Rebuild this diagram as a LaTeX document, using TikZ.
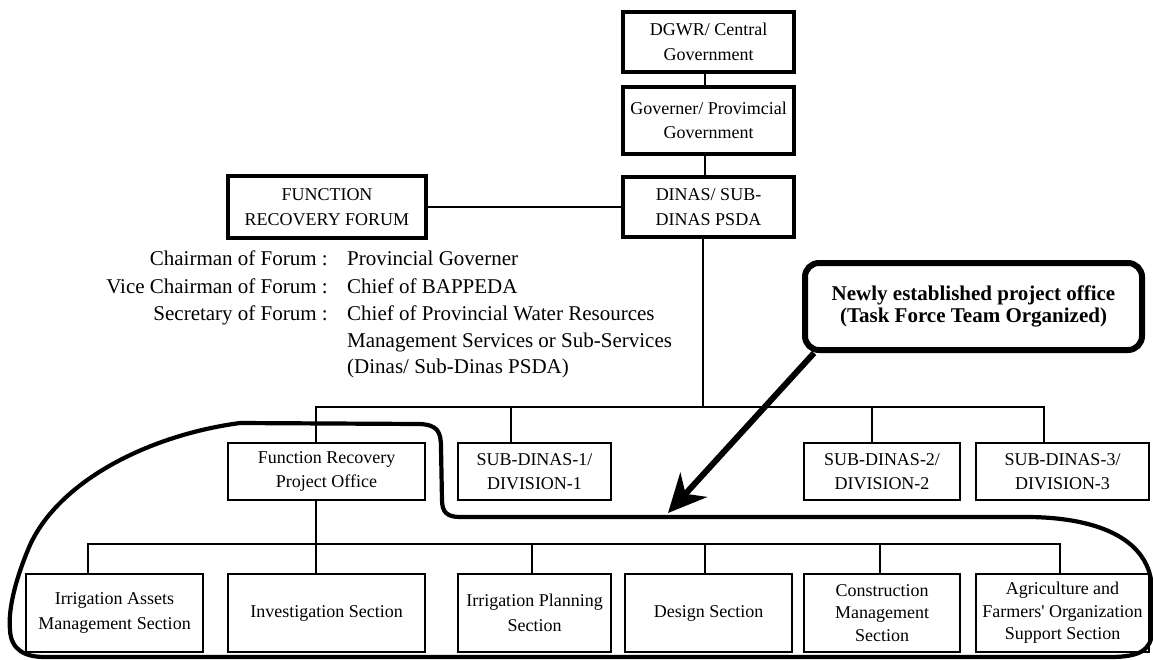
\documentclass[tikz,border=0pt]{standalone}
\usepackage{fontspec}
\setmainfont{Liberation Serif}
\usetikzlibrary{arrows.meta,calc}
\tikzset{
  box/.style={draw, line width=2.3pt, inner sep=0pt, align=center,
              font=\fontsize{18}{24.5}\selectfont},
  boxthree/.style={box, font=\fontsize{18}{22.5}\selectfont},
  topbox/.style={box, line width=3.8pt},
  conn/.style={line width=2.8pt, line cap=rect},
  chair/.style={inner sep=0pt, font=\fontsize{21}{27}\selectfont},
  callbox/.style={draw, line width=6pt, rounded corners=14pt, inner sep=0pt, align=center,
                  font=\fontsize{21}{21.5}\selectfont\bfseries},
  outline/.style={line width=4.2pt, line cap=round, line join=round},
  bigarrow/.style={line width=6pt, -{Stealth[length=38pt,width=36pt,inset=12pt]}}
}
\begin{document}
\begin{tikzpicture}[x=1pt,y=-1pt]
\useasboundingbox (0,0) rectangle (1153,659);

% top chain
\node[topbox, minimum width=171pt, minimum height=60pt] (dgwr) at (708.5,42) {DGWR/ Central\\Government};
\node[topbox, minimum width=171pt, minimum height=67pt] (gov) at (708.5,120.5) {Governer/ Provimcial\\Government};
\node[topbox, minimum width=171pt, minimum height=60pt] (dinas) at (708.5,207) {DINAS/ SUB-\\DINAS PSDA};
\node[topbox, minimum width=198pt, minimum height=62pt] (forum) at (327,207) {FUNCTION\\RECOVERY FORUM};

\coordinate (vx) at (705,0);
\coordinate (vd) at (703,0);
\draw[conn] (dgwr.south -| vx) -- (gov.north -| vx);
\draw[conn] (gov.south -| vx) -- (dinas.north -| vx);
\draw[conn] (forum.east) -- (dinas.west);

% forum members
\node[chair, anchor=base east] (c1) at (328,265) {Chairman of Forum :};
\node[chair, anchor=base east] (c2) at (328,293) {Vice Chairman of Forum :};
\node[chair, anchor=base east] (c3) at (328,320) {Secretary of Forum :};
\node[chair, anchor=base west] (v1) at (347,265) {Provincial Governer};
\node[chair, anchor=base west] (v2) at (347,293) {Chief of BAPPEDA};
\node[chair, anchor=base west] (v3) at (347,320) {Chief of Provincial Water Resources};
\node[chair, anchor=base west] (v4) at (347,347) {Management Services or Sub-Services};
\node[chair, anchor=base west] (v5) at (347,373) {(Dinas/ Sub-Dinas PSDA)};

% middle row
\node[box, minimum width=197pt, minimum height=57pt] (frpo) at (326.5,471.5) {Function Recovery\\Project Office};
\node[box, minimum width=153pt, minimum height=57pt] (sd1) at (534.5,471.5) {SUB-DINAS-1/\\DIVISION-1};
\node[box, minimum width=156pt, minimum height=57pt] (sd2) at (882,471.5) {SUB-DINAS-2/\\DIVISION-2};
\node[box, minimum width=173pt, minimum height=57pt] (sd3) at (1062.5,471.5) {SUB-DINAS-3/\\DIVISION-3};

% bottom row
\node[box, minimum width=177pt, minimum height=78pt] (ia) at (114.5,613) {Irrigation Assets\\Management Section};
\node[box, minimum width=197pt, minimum height=78pt] (inv) at (326.5,613) {Investigation Section};
\node[box, minimum width=153pt, minimum height=78pt] (ip) at (534.5,613) {Irrigation Planning\\Section};
\node[box, minimum width=167pt, minimum height=78pt] (des) at (708.5,613) {Design Section};
\node[boxthree, minimum width=156pt, minimum height=78pt] (con) at (882,613) {Construction\\Management\\Section};
\node[boxthree, minimum width=173pt, minimum height=78pt] (agr) at (1062.5,613) {Agriculture and\\Farmers\textquotesingle\ Organization\\Support Section};

% upper bus
\coordinate (u1) at (316,407);
\coordinate (u2) at (511,407);
\coordinate (u3) at (872,407);
\coordinate (u4) at (1044,407);
\draw[conn] (dinas.south -| vd) -- (vd |- u1);
\draw[conn] (u1) -- (u4);
\draw[conn] (u1) -- (u1 |- frpo.north);
\draw[conn] (u2) -- (u2 |- sd1.north);
\draw[conn] (u3) -- (u3 |- sd2.north);
\draw[conn] (u4) -- (u4 |- sd3.north);

% lower bus
\coordinate (l1) at (88,544);
\coordinate (l2) at (316,544);
\coordinate (l3) at (532,544);
\coordinate (l4) at (705,544);
\coordinate (l5) at (880,544);
\coordinate (l6) at (1060,544);
\draw[conn] (u1 |- frpo.south) -- (l2 |- inv.north);
\draw[conn] (l1) -- (l6);
\draw[conn] (l1) -- (l1 |- ia.north);
\draw[conn] (l3) -- (l3 |- ip.north);
\draw[conn] (l4) -- (l4 |- des.north);
\draw[conn] (l5) -- (l5 |- con.north);
\draw[conn] (l6) -- (l6 |- agr.north);

% outline of the new project office
\draw[outline] (480,517) -- (1030,517)
  .. controls (1100,518) and (1151,540) .. (1152,590)
  -- (1152,630)
  .. controls (1152,650) and (1140,657) .. (1110,657)
  -- (45,657)
  .. controls (25,657) and (11,650) .. (10,630)
  .. controls (8,610) and (15,580) .. (30,545)
  .. controls (60,480) and (150,435) .. (240,423)
  -- (420,424)
  .. controls (438,425) and (441,432) .. (441,448)
  -- (442,500)
  .. controls (442,512) and (447,517) .. (460,517)
  -- cycle;

% callout
\node[callbox, minimum width=337pt, minimum height=87pt] (callout) at (973.5,306.5)
  {Newly established project office\\(Task Force Team Organized)};
\coordinate (tip) at (668,513);
\draw[bigarrow] ($(callout.south west)+(12,0)$) -- (tip);
\end{tikzpicture}
\end{document}
